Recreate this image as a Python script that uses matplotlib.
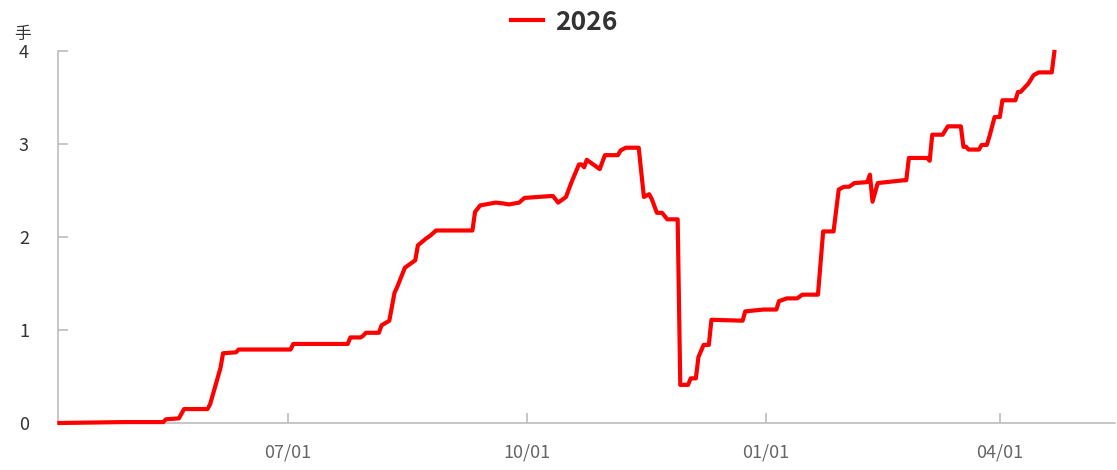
import matplotlib
matplotlib.use('Agg')
import matplotlib.pyplot as plt
import matplotlib.dates as mdates
import pandas as pd

plt.rcParams['font.family'] = ['Noto Sans CJK SC', 'DejaVu Sans']

# Data
series_name = '2026'
dates = [
    '2025-04-04', '2025-04-29', '2025-05-14', '2025-05-15', '2025-05-20', '2025-05-22',
    '2025-05-31', '2025-06-01', '2025-06-05', '2025-06-06', '2025-06-11', '2025-06-12',
    '2025-07-02', '2025-07-03', '2025-07-24', '2025-07-25', '2025-07-29', '2025-07-30',
    '2025-07-31', '2025-08-05', '2025-08-06', '2025-08-09', '2025-08-11', '2025-08-12',
    '2025-08-15', '2025-08-19', '2025-08-20', '2025-08-23', '2025-08-25', '2025-08-27',
    '2025-09-10', '2025-09-11', '2025-09-13', '2025-09-17', '2025-09-19', '2025-09-22',
    '2025-09-24', '2025-09-28', '2025-09-30', '2025-10-10', '2025-10-11', '2025-10-13',
    '2025-10-16', '2025-10-18', '2025-10-21', '2025-10-22', '2025-10-23', '2025-10-24',
    '2025-10-29', '2025-10-31', '2025-11-05', '2025-11-06', '2025-11-08', '2025-11-13',
    '2025-11-15', '2025-11-17', '2025-11-18', '2025-11-20', '2025-11-22', '2025-11-24',
    '2025-11-28', '2025-11-29', '2025-12-02', '2025-12-03', '2025-12-05', '2025-12-06',
    '2025-12-08', '2025-12-10', '2025-12-11', '2025-12-23', '2025-12-24', '2025-12-31',
    '2026-01-05', '2026-01-06', '2026-01-09', '2026-01-13', '2026-01-15', '2026-01-21',
    '2026-01-23', '2026-01-27', '2026-01-29', '2026-01-31', '2026-02-02', '2026-02-04',
    '2026-02-09', '2026-02-10', '2026-02-11', '2026-02-13', '2026-02-23', '2026-02-24',
    '2026-02-25', '2026-03-04', '2026-03-05', '2026-03-06', '2026-03-10', '2026-03-12',
    '2026-03-17', '2026-03-18', '2026-03-19', '2026-03-20', '2026-03-24', '2026-03-25',
    '2026-03-27', '2026-03-28', '2026-03-30', '2026-04-01', '2026-04-02', '2026-04-07',
    '2026-04-08', '2026-04-09', '2026-04-12', '2026-04-14', '2026-04-16', '2026-04-21',
    '2026-04-22',
]
values = [
    0.00, 0.01, 0.01, 0.04, 0.05, 0.15,
    0.15, 0.20, 0.59, 0.75, 0.76, 0.79,
    0.79, 0.85, 0.85, 0.92, 0.92, 0.94,
    0.97, 0.97, 1.05, 1.10, 1.40, 1.46,
    1.67, 1.75, 1.91, 1.98, 2.02, 2.07,
    2.07, 2.27, 2.34, 2.36, 2.37, 2.36,
    2.35, 2.37, 2.42, 2.44, 2.44, 2.37,
    2.43, 2.58, 2.78, 2.78, 2.75, 2.83,
    2.73, 2.88, 2.88, 2.93, 2.96, 2.96,
    2.43, 2.46, 2.41, 2.26, 2.26, 2.19,
    2.19, 0.41, 0.41, 0.48, 0.48, 0.71,
    0.84, 0.84, 1.11, 1.10, 1.20, 1.22,
    1.22, 1.31, 1.34, 1.34, 1.38, 1.38,
    2.06, 2.06, 2.51, 2.54, 2.54, 2.58,
    2.59, 2.67, 2.38, 2.58, 2.61, 2.61,
    2.85, 2.85, 2.82, 3.10, 3.10, 3.19,
    3.19, 2.97, 2.97, 2.94, 2.94, 2.99,
    2.99, 3.08, 3.29, 3.29, 3.47, 3.47,
    3.56, 3.56, 3.65, 3.74, 3.77, 3.77,
    3.99,
]
x_ticks = ['2025-07-01', '2025-10-01', '2026-01-01', '2026-04-01']
y_ticks = [0, 1, 2, 3, 4]
unit_label = '手'

fig = plt.figure(figsize=(11.17, 4.70), dpi=100, facecolor='white')
ax = fig.add_axes([0.052, 0.1, 0.946, 0.7915])

# Line drawn above the spines so the zero stretch stays fully red
ax.plot(pd.to_datetime(dates), values, color='#FF0000', linewidth=3,
        solid_joinstyle='round', label=series_name, clip_on=False, zorder=3)

ax.set_xlim(pd.Timestamp('2025-04-03 12:00'), pd.Timestamp('2026-05-15 06:00'))
ax.set_ylim(0, 4)
ax.set_yticks(y_ticks)
ax.set_xticks(pd.to_datetime(x_ticks))
ax.xaxis.set_major_formatter(mdates.DateFormatter('%m/%d'))

# Axis styling: only left and bottom, light gray, ticks pointing inward
for side in ['top', 'right']:
    ax.spines[side].set_visible(False)
for side in ['left', 'bottom']:
    ax.spines[side].set_color('#BDBDBD')
    ax.spines[side].set_linewidth(1.2)
ax.tick_params(axis='y', direction='in', length=7, width=1.2, color='#BDBDBD',
               labelsize=13, labelcolor='#333333', pad=21)
ax.tick_params(axis='x', direction='in', length=7, width=1.2, color='#BDBDBD',
               labelsize=13, labelcolor='#666666', pad=15)

# Unit label above the y axis
fig.text(22 / 1117, 1 - 34 / 470, unit_label, fontsize=12, color='#333333',
         ha='center', va='center')

# Legend centered above the plot
leg = fig.legend(loc='center', bbox_to_anchor=(0.505, 0.953), frameon=False,
                 handlelength=1.2, handletextpad=0.45,
                 prop={'size': 19, 'weight': 'bold'})
for t in leg.get_texts():
    t.set_color('#333333')

fig.savefig('out.png', dpi=100, facecolor='white')
